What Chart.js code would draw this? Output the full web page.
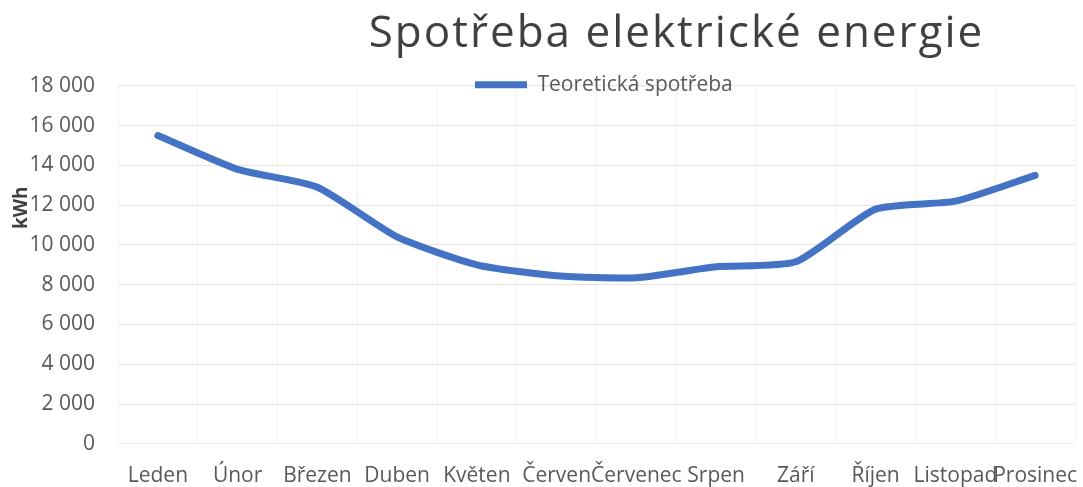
<!DOCTYPE html>
<html>
<head>
<meta charset="utf-8">
<script src="https://cdn.jsdelivr.net/npm/chart.js@4/dist/chart.umd.min.js"></script>
<style>
  html, body { margin: 0; padding: 0; background: #fff; }
  #wrap { width: 1083px; height: 487px; }
</style>
</head>
<body>
<div id="wrap"><canvas id="spotrebaChart"></canvas></div>
<script>
const months = ["Leden", "Únor", "Březen", "Duben", "Květen", "Červen", "Červenec", "Srpen", "Září", "Říjen", "Listopad", "Prosinec"];
const spotreba = [15500, 13800, 12900, 10400, 9000, 8450, 8350, 8900, 9150, 11800, 12200, 13500];
const seriesName = "Teoretická spotřeba";
const chartTitle = "Spotřeba elektrické energie";
const yTitle = "kWh";

Chart.defaults.font.family = "'Open Sans', sans-serif";
Chart.defaults.color = "#595959";

// excel puts the title off-centre, the legend on top of the plot area
// and the axis title a bit above the middle
const placeBoxes = {
  id: 'placeBoxes',
  afterLayout(chart) {
    const t = chart.titleBlock;
    if (t) {
      t.left = 270; t.right = chart.width;
      if (!t._spaced) {
        const orig = t.draw;
        t.draw = function() {
          chart.ctx.save();
          chart.ctx.letterSpacing = "2px";
          orig.apply(this, arguments);
          chart.ctx.restore();
        };
        t._spaced = true;
      }
    }
    const lg = chart.legend;
    if (lg) {
      const h = lg.bottom - lg.top;
      const w = lg.right - lg.left;
      lg.left = 465;
      lg.right = lg.left + w;
      lg.top = chart.chartArea.top - 21.5;
      lg.bottom = lg.top + h;
    }
    const ys = chart.scales.y;
    if (ys && !ys._moved) {
      const origTitle = ys.drawTitle;
      ys.drawTitle = function() {
        const b = this.bottom;
        this.bottom = b - 114;
        origTitle.apply(this, arguments);
        this.bottom = b;
      };
      ys._moved = true;
    }
  }
};

function fmt(v) {
  return String(v).replace(/\B(?=(\d{3})+(?!\d))/g, " ");
}

const ctx = document.getElementById('spotrebaChart').getContext('2d');
const spotrebaChart = new Chart(ctx, {
  type: 'line',
  data: {
    labels: months,
    datasets: [{
      label: seriesName,
      data: spotreba,
      borderColor: "#4472C4",
      backgroundColor: "#4472C4",
      borderWidth: 7,
      borderCapStyle: 'round',
      borderJoinStyle: 'round',
      pointRadius: 0,
      tension: 0.2,
      fill: false
    }]
  },
  plugins: [placeBoxes],
  options: {
    responsive: true,
    maintainAspectRatio: false,
    animation: false,
    layout: { padding: { left: 0, right: 8, top: 0, bottom: -22 } },
    plugins: {
      title: {
        display: true,
        text: chartTitle,
        color: "#404040",
        font: { size: 44, weight: 'normal' },
        padding: { top: 8, bottom: 25 }
      },
      legend: {
        position: 'chartArea',
        align: 'start',
        labels: {
          usePointStyle: true,
          pointStyle: 'line',
          pointStyleWidth: 52,
          color: "#595959",
          font: { size: 21 }
        }
      },
      tooltip: { enabled: false }
    },
    scales: {
      x: {
        offset: true,
        grid: { color: "#f3f3f3", drawTicks: false, offset: true },
        border: { color: "#eeeeee" },
        ticks: { font: { size: 21 }, padding: 20, maxRotation: 0, autoSkip: false, color: "#595959" },
        afterFit: function(scale) { scale.paddingLeft = 0; scale.paddingRight = 0; }
      },
      y: {
        min: 0,
        max: 18000,
        grid: {
          drawTicks: false,
          color: (c) => c.tick && c.tick.value === 0 ? "#f3f3f3" : "#e5e5e5"
        },
        border: { display: false },
        ticks: {
          stepSize: 2000,
          padding: 23,
          font: { size: 21 },
          color: "#595959",
          callback: function(value) { return fmt(value); }
        },
        title: {
          display: true,
          text: yTitle,
          color: "#404040",
          font: { size: 19, weight: 'bold' },
          padding: { top: 10, bottom: 0 }
        },
        afterFit: function(scale) { scale.width = 118; }
      }
    }
  }
});
</script>
</body>
</html>
